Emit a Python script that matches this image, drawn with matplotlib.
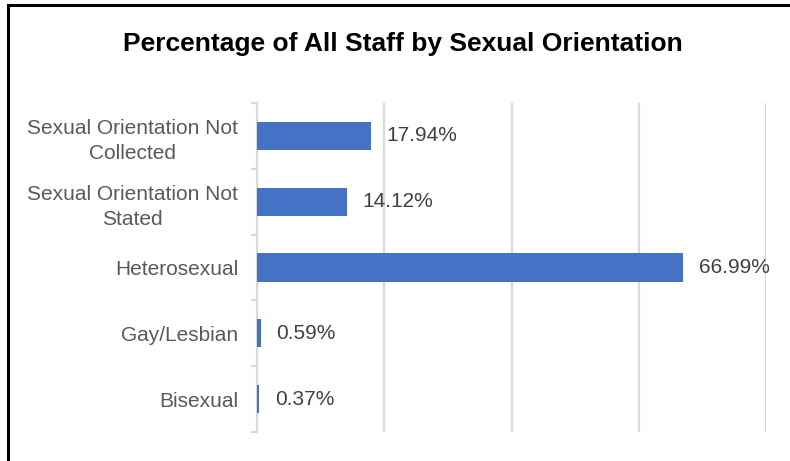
import numpy as np
import matplotlib.pyplot as plt
from matplotlib.patches import Rectangle

categories = ["Sexual Orientation Not\nCollected", "Sexual Orientation Not\nStated",
              "Heterosexual", "Gay/Lesbian", "Bisexual"]
values = [17.94, 14.12, 66.99, 0.59, 0.37]
labels = ["17.94%", "14.12%", "66.99%", "0.59%", "0.37%"]

plt.rcParams['font.family'] = ['Liberation Sans', 'DejaVu Sans']

fig = plt.figure(figsize=(7.9, 4.61), dpi=100)
ax = fig.add_axes([257 / 790, 1 - 432 / 461, 509 / 790, 329 / 461])

y = np.arange(len(categories))
ax.barh(y, values, height=0.43, color="#4472C4", zorder=3)
ax.set_ylim(len(categories) - 0.5, -0.5)
ax.set_xlim(0, 80)

for yi, v, lab in zip(y, values, labels):
    ax.annotate(lab, (v, yi), xytext=(11, 0), textcoords="offset points",
                va="center", ha="left", fontsize=15, color="#404040", zorder=4)

ax.set_xticks([0, 20, 40, 60, 80])
ax.set_xticklabels([])
ax.tick_params(axis="x", length=0)
ax.grid(axis="x", color="#D9D9D9", linewidth=1.6, zorder=0)

ax.set_yticks(y)
ax.set_yticklabels(categories, fontsize=15, color="#595959", multialignment="center",
                   linespacing=1.4)
ax.tick_params(axis="y", which="major", length=0, pad=13.5)
ax.set_yticks(np.arange(-0.5, len(categories), 1), minor=True)
ax.tick_params(axis="y", which="minor", length=4, color="#D9D9D9", width=1.6)

for s in ["top", "right", "bottom"]:
    ax.spines[s].set_visible(False)
ax.spines["left"].set_color("#D9D9D9")
ax.spines["left"].set_linewidth(1.6)

fig.text(403 / 790, 1 - 44 / 461, "Percentage of All Staff by Sexual Orientation",
         ha="center", va="center", fontsize=19, fontweight="bold", color="black")

fig.patches.append(Rectangle((8 / 790, -0.1), 1.2, 1 - 5 / 461 + 0.1, transform=fig.transFigure,
                             fill=False, edgecolor="black", linewidth=2.2, zorder=10))

fig.savefig("out.png", dpi=100)
